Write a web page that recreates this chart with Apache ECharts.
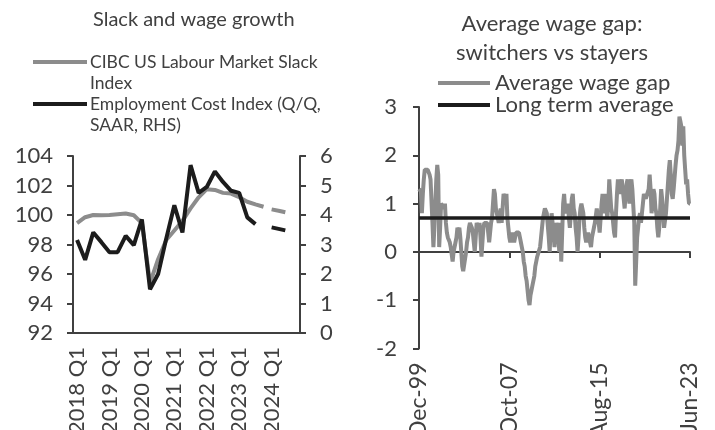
<!DOCTYPE html>
<html>
<head>
<meta charset="utf-8">
<script src="https://cdn.jsdelivr.net/npm/echarts@6/dist/echarts.min.js"></script>
<style>
  html, body { margin: 0; padding: 0; background: #fff; }
  #root { width: 715px; height: 430px; }
</style>
</head>
<body>
<div id="root"></div>
<script>
// left panel: quarterly
var quarters = ['2018 Q1', '2018 Q2', '2018 Q3', '2018 Q4', '2019 Q1', '2019 Q2', '2019 Q3', '2019 Q4',
  '2020 Q1', '2020 Q2', '2020 Q3', '2020 Q4', '2021 Q1', '2021 Q2', '2021 Q3', '2021 Q4',
  '2022 Q1', '2022 Q2', '2022 Q3', '2022 Q4', '2023 Q1', '2023 Q2', '2023 Q3', '2023 Q4',
  '2024 Q1', '2024 Q2', '2024 Q3', '2024 Q4']
var slackIndex = [99.45, 99.85, 100.0, 99.98, 100.0, 100.05, 100.1, 99.98, 99.45, 95.4, 97.0, 98.3,
  98.95, 99.6, 100.45, 101.2, 101.75, 101.7, 101.5, 101.45, 101.2, 100.9, 100.72, 100.56,
  '-', '-', '-', '-']
var slackForecast = ['-', '-', '-', '-', '-', '-', '-', '-', '-', '-', '-', '-',
  '-', '-', '-', '-', '-', '-', '-', '-', '-', '-', '-', '-',
  100.38, 100.27, 100.15, '-']
var eci = [3.15, 2.48, 3.41, 3.08, 2.74, 2.74, 3.29, 2.98, 3.85, 1.48, 2.0, 3.2,
  4.33, 3.41, 5.69, 4.75, 4.95, 5.48, 5.12, 4.82, 4.75, 3.92, 3.69, '-',
  '-', '-', '-', '-']
var eciForecast = ['-', '-', '-', '-', '-', '-', '-', '-', '-', '-', '-', '-',
  '-', '-', '-', '-', '-', '-', '-', '-', '-', '-', '-', '-',
  3.58, 3.52, 3.46, '-']

// right panel: monthly, Dec-99 to Jun-23
var wageGap = [
  1.3, 1.3, 1.25, 0.8, 1.2, 1.5, 1.7, 1.7, 1.7, 1.7, 1.65, 1.6,
  1.5, 1.5, 0.6, 0.1, 0.5, 1.0, 1.5, 1.8, 1.6, 0.1, 0.5, 1.0,
  1.0, 1.0, 0.9, 1.0, 0.6, 0.4, 0.3, 0.3, 0.2, 0.1, 0.1, -0.2,
  0.0, 0.1, 0.2, 0.3, 0.5, 0.4, 0.5, 0.3, 0.0, -0.3, -0.4, -0.4,
  -0.4, 0.0, 0.2, 0.3, 0.5, 0.6, 0.6, 0.5, 0.4, 0.2, 0.0, 0.3,
  0.6, 0.6, 0.5, 0.6, 0.3, -0.1, 0.2, 0.5, 0.6, 0.6, 0.6, 0.6,
  0.4, 0.2, 0.4, 0.6, 0.7, 1.0, 1.3, 1.2, 0.9, 0.9, 0.7, 0.6,
  0.7, 0.9, 0.6, 0.9, 1.2, 1.2, 1.1, 1.2, 0.7, 0.5, 0.3, 0.2,
  0.3, 0.4, 0.3, 0.2, 0.3, 0.4, 0.4, 0.4, 0.4, 0.3, 0.2, 0.1,
  0.0, -0.2, -0.3, -0.5, -0.6, -0.8, -1.0, -1.1, -0.9, -0.8, -0.7, -0.7,
  -0.5, -0.3, -0.2, -0.1, -0.1, -0.1, 0.1, 0.3, 0.5, 0.7, 0.8, 0.9,
  0.9, 0.8, 0.8, 0.3, 0.0, 0.5, 0.8, 0.8, 0.4, 0.1, 0.4, 0.6,
  0.5, 0.3, 0.0, 0.6, -0.2, 0.4, 1.0, 1.2, 0.9, 0.8, 0.9, 1.0,
  0.7, 0.5, 0.8, 1.1, 1.2, 0.9, 0.8, 0.5, 0.3, 0.0, 0.3, 0.7,
  0.9, 1.0, 0.9, 0.8, 0.5, 0.3, 0.2, 0.3, 0.4, 0.4, 0.2, 0.1,
  0.3, 0.4, 0.5, 0.6, 0.6, 0.9, 0.9, 0.6, 0.4, 0.7, 1.0, 1.2,
  0.8, 1.0, 1.2, 0.9, 0.7, 1.0, 1.5, 1.2, 0.9, 0.8, 0.6, 0.4,
  0.3, 0.8, 1.2, 1.5, 1.3, 1.2, 1.4, 1.5, 1.3, 1.1, 0.9, 1.2,
  1.4, 1.5, 1.2, 1.0, 1.4, 1.5, 1.3, 1.3, 0.6, -0.7, -0.2, 0.3,
  0.5, 0.7, 0.8, 0.6, 0.8, 1.0, 1.2, 1.2, 1.1, 1.1, 1.1, 1.3,
  1.6, 1.3, 0.8, 1.1, 1.3, 1.2, 0.9, 0.8, 0.5, 0.3, 0.5, 0.9,
  1.3, 1.1, 0.8, 0.5, 0.5, 0.8, 1.1, 1.4, 1.7, 1.9, 1.6, 1.2,
  1.1, 1.3, 1.3, 1.8, 2.0, 2.1, 2.3, 2.8, 2.7, 2.6, 2.2, 2.6,
  2.0, 1.7, 1.4, 1.5, 1.2, 1.0, 1.0
]
var longTermAverage = 0.7

var monNames = ['Jan', 'Feb', 'Mar', 'Apr', 'May', 'Jun', 'Jul', 'Aug', 'Sep', 'Oct', 'Nov', 'Dec']
var months = []
for (var i = 0; i < wageGap.length; i++) {
  var m = 11 + i // Dec 1999 start
  var yr = (1999 + Math.floor(m / 12)) % 100
  months.push(monNames[m % 12] + '-' + (yr < 10 ? '0' + yr : '' + yr))
}

var FONT = 'Lato'
var TXT = '#404040'
var AXIS = '#404040'
var GREY = '#8c8c8c'
var BLACK = '#1c1c1c'

var chart = echarts.init(document.getElementById('root'))

var option = {
  animation: false,
  textStyle: { fontFamily: FONT, color: TXT },
  title: [
    { text: 'Slack and wage growth', left: 93, top: 9, padding: 0,
      textStyle: { fontFamily: FONT, fontSize: 20, fontWeight: 'normal', color: TXT, lineHeight: 22 } },
    { text: 'Average wage gap:\nswitchers vs stayers', left: 552, top: 9, padding: 0, textAlign: 'center',
      textStyle: { fontFamily: FONT, fontSize: 22, fontWeight: 'normal', color: TXT, lineHeight: 29 } }
  ],
  legend: {
    data: [
      { name: 'Average wage gap', icon: 'rect' },
      { name: 'Long term average', icon: 'rect' }
    ],
    orient: 'vertical',
    left: 438, top: 72,
    padding: 0,
    itemWidth: 52, itemHeight: 4, itemGap: 0,
    textStyle: { fontFamily: FONT, fontSize: 22, color: TXT, lineHeight: 21 }
  },
  graphic: [
    { type: 'line', shape: { x1: 33, y1: 62, x2: 87, y2: 62 }, style: { stroke: GREY, lineWidth: 4 } },
    { type: 'text', left: 90, top: 52, style: { text: 'CIBC US Labour Market Slack\nIndex', font: '17.5px Lato', fill: TXT, lineHeight: 21 } },
    { type: 'line', shape: { x1: 33, y1: 104, x2: 87, y2: 104 }, style: { stroke: BLACK, lineWidth: 4 } },
    { type: 'text', left: 90, top: 94, style: { text: 'Employment Cost Index (Q/Q,\nSAAR, RHS)', font: '17.5px Lato', fill: TXT, lineHeight: 21 } }
  ],
  grid: [
    { left: 73, right: 415, top: 156, bottom: 97, outerBoundsMode: 'none', containLabel: false },
    { left: 419, right: 25, top: 107, bottom: 81.5, outerBoundsMode: 'none', containLabel: false }
  ],
  xAxis: [
    {
      type: 'category', gridIndex: 0, data: quarters, boundaryGap: true,
      axisLine: { onZero: false, lineStyle: { color: AXIS, width: 2 } },
      axisTick: { interval: 5, length: 6, lineStyle: { color: AXIS, width: 2 } },
      axisLabel: { interval: 3, rotate: 90, margin: 14, fontSize: 22, color: TXT, fontFamily: FONT }
    },
    {
      type: 'category', gridIndex: 1, data: months, boundaryGap: false,
      axisLine: { onZero: true, lineStyle: { color: AXIS, width: 2 } },
      axisTick: { interval: 93, length: 6, lineStyle: { color: AXIS, width: 2 } },
      axisLabel: { show: false }
    },
    {
      type: 'category', gridIndex: 1, data: months, boundaryGap: false, position: 'bottom',
      axisLine: { show: false, onZero: false },
      axisTick: { show: false },
      axisLabel: { interval: 93, rotate: 90, margin: 14, fontSize: 23, color: TXT, fontFamily: FONT }
    }
  ],
  yAxis: [
    {
      type: 'value', gridIndex: 0, min: 92, max: 104, interval: 2, position: 'left',
      splitLine: { show: false },
      axisLine: { show: true, lineStyle: { color: AXIS, width: 2 } },
      axisTick: { show: true, length: 6, lineStyle: { color: AXIS, width: 2 } },
      axisLabel: { margin: 20, fontSize: 22, color: TXT, fontFamily: FONT }
    },
    {
      type: 'value', gridIndex: 0, min: 0, max: 6, interval: 1, position: 'right',
      splitLine: { show: false },
      axisLine: { show: true, lineStyle: { color: AXIS, width: 2 } },
      axisTick: { show: true, length: 6, lineStyle: { color: AXIS, width: 2 } },
      axisLabel: { margin: 20, fontSize: 22, color: TXT, fontFamily: FONT }
    },
    {
      type: 'value', gridIndex: 1, min: -2, max: 3, interval: 1, position: 'left',
      splitLine: { show: false },
      axisLine: { show: true, lineStyle: { color: AXIS, width: 2 } },
      axisTick: { show: true, length: 6, lineStyle: { color: AXIS, width: 2 } },
      axisLabel: { margin: 22, fontSize: 22, color: TXT, fontFamily: FONT }
    }
  ],
  series: [
    { name: 'CIBC US Labour Market Slack Index', type: 'line', xAxisIndex: 0, yAxisIndex: 0,
      data: slackIndex, symbol: 'none', lineStyle: { color: GREY, width: 4 }, itemStyle: { color: GREY } },
    { name: 'Slack forecast', type: 'line', xAxisIndex: 0, yAxisIndex: 0,
      data: slackForecast, symbol: 'none', lineStyle: { color: GREY, width: 4, type: [14, 6] } },
    { name: 'Employment Cost Index (Q/Q, SAAR, RHS)', type: 'line', xAxisIndex: 0, yAxisIndex: 1,
      data: eci, symbol: 'none', lineStyle: { color: BLACK, width: 4 }, itemStyle: { color: BLACK } },
    { name: 'ECI forecast', type: 'line', xAxisIndex: 0, yAxisIndex: 1,
      data: eciForecast, symbol: 'none', lineStyle: { color: BLACK, width: 4, type: [14, 6] } },
    { name: 'Average wage gap', type: 'line', xAxisIndex: 1, yAxisIndex: 2,
      data: wageGap, symbol: 'none', lineStyle: { color: GREY, width: 4 }, itemStyle: { color: GREY } },
    { name: 'Long term average', type: 'line', xAxisIndex: 1, yAxisIndex: 2,
      data: months.map(function () { return longTermAverage }), symbol: 'none',
      lineStyle: { color: BLACK, width: 3.5 }, itemStyle: { color: BLACK } }
  ]
}

chart.setOption(option)
</script>
</body>
</html>
